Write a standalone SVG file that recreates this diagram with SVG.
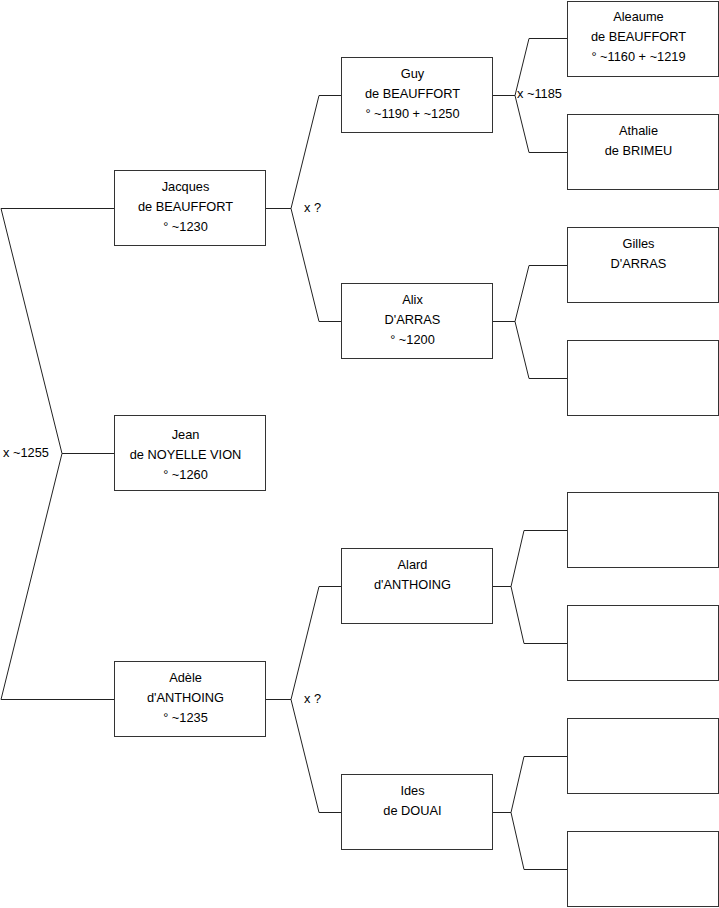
<svg xmlns="http://www.w3.org/2000/svg" width="719" height="908" viewBox="0 0 719 908">
<style>
.box{fill:#fff;stroke:#333;stroke-width:1}
.ln{fill:none;stroke:#222;stroke-width:1}
text{font-family:"Liberation Sans",Arial,sans-serif;font-size:12.8px;fill:#000}
.c{text-anchor:middle}
</style>
<rect width="719" height="908" fill="#fff"/>
<g id="connectors">
<polyline class="ln" points="114,208.5 1,208.5 62,453.5 1,699.5 114,699.5"/>
<line class="ln" x1="62" y1="453.5" x2="114" y2="453.5"/>
<polyline class="ln" points="341,95.5 319,95.5 291,208.5 319,321.5 341,321.5"/>
<line class="ln" x1="265" y1="208.5" x2="291" y2="208.5"/>
<polyline class="ln" points="341,586.5 319,586.5 291,699.5 319,812.5 341,812.5"/>
<line class="ln" x1="265" y1="699.5" x2="291" y2="699.5"/>
<polyline class="ln" points="567,38.5 529,38.5 515,95.5 529,152.5 567,152.5"/>
<line class="ln" x1="492" y1="95.5" x2="515" y2="95.5"/>
<polyline class="ln" points="567,265.5 529,265.5 515,321.5 529,378.5 567,378.5"/>
<line class="ln" x1="492" y1="321.5" x2="515" y2="321.5"/>
<polyline class="ln" points="567,530.5 524,530.5 511,586.5 524,643.5 567,643.5"/>
<line class="ln" x1="492" y1="586.5" x2="511" y2="586.5"/>
<polyline class="ln" points="567,756.5 524,756.5 511,812.5 524,869.5 567,869.5"/>
<line class="ln" x1="492" y1="812.5" x2="511" y2="812.5"/>
<text x="3" y="456.5">x ~1255</text>
<text x="304" y="211.5">x ?</text>
<text x="304" y="702.5">x ?</text>
<text x="517" y="97.5">x ~1185</text>
</g>
<g id="jacques"><rect class="box" x="114.5" y="170.5" width="151" height="75"/>
<text class="c" x="185.5" y="190.5">Jacques</text><text class="c" x="185.5" y="210.5">de BEAUFFORT</text><text class="c" x="185.5" y="230.5">° ~1230</text></g>
<g id="jean"><rect class="box" x="114.5" y="415.5" width="151" height="75"/>
<text class="c" x="185.5" y="438.5">Jean</text><text class="c" x="185.5" y="458.5">de NOYELLE VION</text><text class="c" x="185.5" y="478.5">° ~1260</text></g>
<g id="adele"><rect class="box" x="114.5" y="661.5" width="151" height="75"/>
<text class="c" x="185.5" y="681.5">Adèle</text><text class="c" x="185.5" y="701.5">d'ANTHOING</text><text class="c" x="185.5" y="721.5">° ~1235</text></g>
<g id="guy"><rect class="box" x="341.5" y="57.5" width="151" height="75"/>
<text class="c" x="412.5" y="77.5">Guy</text><text class="c" x="412.5" y="97.5">de BEAUFFORT</text><text class="c" x="412.5" y="117.5">° ~1190 + ~1250</text></g>
<g id="alix"><rect class="box" x="341.5" y="283.5" width="151" height="75"/>
<text class="c" x="412.5" y="303.5">Alix</text><text class="c" x="412.5" y="323.5">D'ARRAS</text><text class="c" x="412.5" y="343.5">° ~1200</text></g>
<g id="alard"><rect class="box" x="341.5" y="548.5" width="151" height="75"/>
<text class="c" x="412.5" y="568.5">Alard</text><text class="c" x="412.5" y="588.5">d'ANTHOING</text></g>
<g id="ides"><rect class="box" x="341.5" y="774.5" width="151" height="75"/>
<text class="c" x="412.5" y="794.5">Ides</text><text class="c" x="412.5" y="814.5">de DOUAI</text></g>
<g id="aleaume"><rect class="box" x="567.5" y="1.5" width="151" height="75"/>
<text class="c" x="638.5" y="20.5">Aleaume</text><text class="c" x="638.5" y="40.5">de BEAUFFORT</text><text class="c" x="638.5" y="60.5">° ~1160 + ~1219</text></g>
<g id="athalie"><rect class="box" x="567.5" y="114.5" width="151" height="75"/>
<text class="c" x="638.5" y="134.5">Athalie</text><text class="c" x="638.5" y="154.5">de BRIMEU</text></g>
<g id="gilles"><rect class="box" x="567.5" y="227.5" width="151" height="75"/>
<text class="c" x="638.5" y="247.5">Gilles</text><text class="c" x="638.5" y="267.5">D'ARRAS</text></g>
<g id="empty1"><rect class="box" x="567.5" y="340.5" width="151" height="75"/></g>
<g id="empty2"><rect class="box" x="567.5" y="492.5" width="151" height="75"/></g>
<g id="empty3"><rect class="box" x="567.5" y="605.5" width="151" height="75"/></g>
<g id="empty4"><rect class="box" x="567.5" y="718.5" width="151" height="75"/></g>
<g id="empty5"><rect class="box" x="567.5" y="831.5" width="151" height="75"/></g>
</svg>
